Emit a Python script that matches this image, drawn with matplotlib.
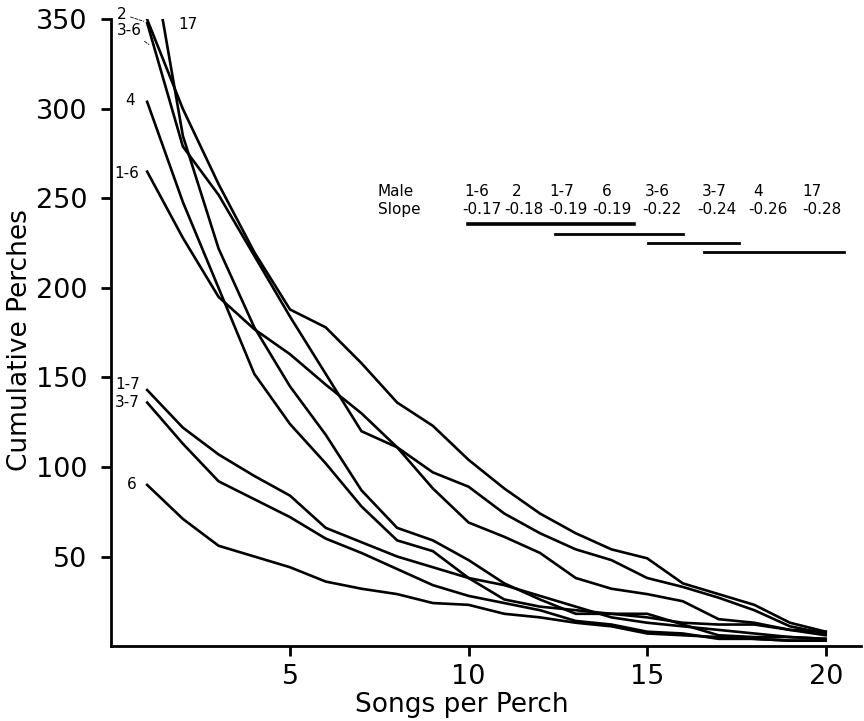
import matplotlib
matplotlib.use("Agg")
import matplotlib.pyplot as plt

songs = list(range(1, 21))

# cumulative perches per male
male_2 = [350, 300, 258, 220, 188, 178, 158, 136, 123, 104, 88, 74, 63, 54, 49, 35, 29, 23, 13, 8]
male_3_6 = [348, 279, 252, 218, 184, 152, 120, 111, 88, 69, 61, 52, 38, 32, 29, 25, 15, 13, 9, 6]
male_17 = [400, 285, 222, 178, 145, 118, 87, 66, 59, 48, 35, 26, 18, 18, 16, 13, 12, 12, 9, 8]
male_4 = [304, 248, 200, 152, 124, 102, 78, 59, 53, 38, 26, 22, 20, 18, 18, 12, 6, 5, 5, 4]
male_1_6 = [265, 228, 195, 177, 163, 146, 130, 111, 97, 89, 74, 63, 54, 48, 38, 33, 27, 20, 11, 7]
male_1_7 = [143, 122, 107, 95, 84, 66, 58, 50, 44, 38, 34, 28, 22, 16, 13, 11, 9, 7, 5, 4]
male_3_7 = [136, 113, 92, 82, 72, 60, 52, 43, 34, 28, 24, 20, 14, 12, 8, 7, 4, 4, 3, 3]
male_6 = [90, 71, 56, 50, 44, 36, 32, 29, 24, 23, 18, 16, 13, 11, 7, 6, 5, 4, 3, 3]

series = [male_2, male_3_6, male_17, male_4, male_1_6, male_1_7, male_3_7, male_6]

slope_males = ["1-6", "2", "1-7", "6", "3-6", "3-7", "4", "17"]
slope_values = ["-0.17", "-0.18", "-0.19", "-0.19", "-0.22", "-0.24", "-0.26", "-0.28"]
male_x = [10.23, 11.36, 12.61, 13.88, 15.28, 16.88, 18.11, 19.62]
slope_x = [10.37, 11.55, 12.79, 14.02, 15.41, 16.96, 18.39, 19.90]
# males whose slopes do not differ (index ranges into slope_males)
groups = [(0, 3), (2, 4), (4, 5), (5, 7)]
group_y = [235.5, 230, 225, 220]
group_lw = [2.6, 2, 2, 2]

plt.rcParams['font.family'] = ['DejaVu Sans']
fig = plt.figure(figsize=(8.64, 7.21), dpi=100)
ax = fig.add_axes([0.129, 0.104, 0.868, 0.869])

for s in series:
    ax.plot(songs, s, color='black', lw=1.9, solid_joinstyle='miter')

ax.set_xlim(0, 21)
ax.set_ylim(0, 350)
ax.set_xticks([5, 10, 15, 20])
ax.set_yticks([50, 100, 150, 200, 250, 300, 350])
ax.spines['top'].set_visible(False)
ax.spines['right'].set_visible(False)
ax.spines['left'].set_linewidth(2)
ax.spines['bottom'].set_linewidth(2)
ax.tick_params(axis='both', length=7, width=2, labelsize=19.5)
ax.tick_params(axis='y', pad=10.5)
ax.tick_params(axis='x', pad=6)
ax.set_xlabel('Songs per Perch', fontsize=19)
ax.set_ylabel('Cumulative Perches', fontsize=19)
ax.xaxis.set_label_coords(0.4675, -0.074)
ax.yaxis.set_label_coords(-0.104, 0.488)

# line labels
lab_kw = dict(fontsize=11, ha='right', va='center')
ax.annotate('2', xy=(0.9, 349), xytext=(0.15, 353), annotation_clip=False, ha='left', va='center',
            fontsize=11, arrowprops=dict(arrowstyle='-', ls='--', lw=0.6, shrinkA=1, shrinkB=0))
ax.annotate('3-6', xy=(1.05, 336), xytext=(0.15, 344), annotation_clip=False, ha='left', va='center',
            fontsize=11, arrowprops=dict(arrowstyle='-', ls='--', lw=0.6, shrinkA=1, shrinkB=0))
ax.text(1.87, 347, '17', fontsize=11, ha='left', va='center')
ax.text(0.66, 305, '4', **lab_kw)
ax.text(0.78, 264, '1-6', **lab_kw)
ax.text(0.8, 146, '1-7', **lab_kw)
ax.text(0.8, 136, '3-7', **lab_kw)
ax.text(0.71, 90, '6', **lab_kw)

# slope table
ax.text(7.46, 253.8, 'Male', fontsize=11, va='center')
ax.text(7.46, 244, 'Slope', fontsize=11, va='center')
for xm, xs, m, v in zip(male_x, slope_x, slope_males, slope_values):
    ax.text(xm, 253.8, m, fontsize=11, ha='center', va='center')
    ax.text(xs, 244, v, fontsize=11, ha='center', va='center')
for (i0, i1), gy, lw in zip(groups, group_y, group_lw):
    ax.plot([slope_x[i0] - 0.38, slope_x[i1] + 0.6], [gy, gy], color='black', lw=lw, clip_on=False)

fig.savefig('out.png', dpi=100)
